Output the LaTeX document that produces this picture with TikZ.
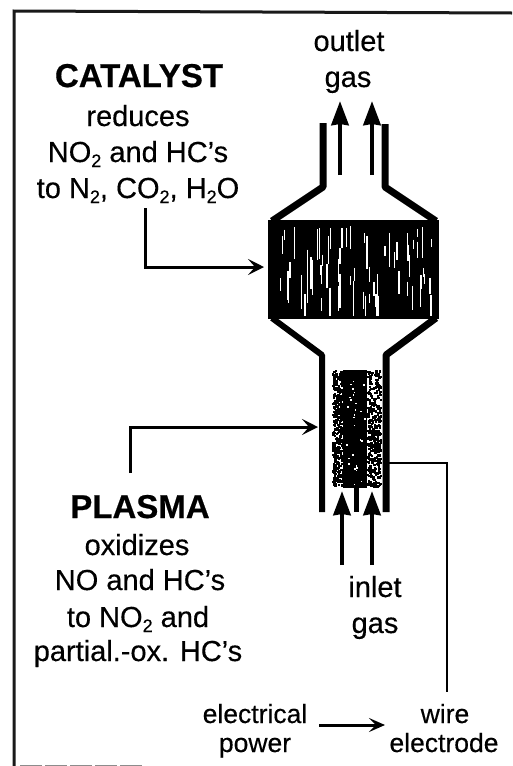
\documentclass[tikz,border=0pt]{standalone}
\usepackage{fontspec}
\setmainfont{Liberation Sans}
\newfontfamily\txtfont[RawFeature={embolden=0.35}]{Liberation Sans}
\newfontfamily\hdfont[RawFeature={embolden=0.5}]{Liberation Sans Bold}
\usetikzlibrary{arrows.meta}
\newcommand{\subtwo}{\raisebox{-5pt}{\fontsize{18}{18}\selectfont 2}}
\tikzset{
  frameline/.style={line width=3pt,black!90},
  wall/.style={line width=7pt,line join=round,black},
  wallthin/.style={line width=6pt,line join=round,black},
  gasflow/.style={line width=4.5pt,-{Stealth[length=24pt,width=17pt,inset=1pt]}},
  callout/.style={line width=3pt,line join=miter,-{Stealth[length=16pt,width=16pt,inset=7pt]}},
  wireline/.style={line width=2.4pt,line join=miter},
  label/.style={anchor=base,inner sep=0pt,align=center,font=\txtfont\fontsize{29}{29}\selectfont},
  smalllabel/.style={anchor=base,inner sep=0pt,font=\txtfont\fontsize{26.5}{26.5}\selectfont},
  heading/.style={anchor=base,inner sep=0pt,font=\hdfont\fontsize{33}{33}\selectfont},
  bed/.style={anchor=north west,inner sep=0pt,minimum width=171pt,minimum height=99pt,fill=black,draw=none},
  plasmaregion/.style={anchor=north west,inner sep=0pt,minimum width=49pt,minimum height=118pt,draw=none},
}
\begin{document}
\begin{tikzpicture}[x=1pt,y=-1pt]
\useasboundingbox (0,0) rectangle (512,766);
\fill[white] (0,0) rectangle (512,766);
\pgfmathsetseed{4242}
% frame
\draw[frameline] (14,766) -- (14,11) -- (512,13);
\draw[black!45,line width=1pt,dash pattern=on 22pt off 3pt] (20,765) -- (143,765);
% catalyst bed
\node[bed] (catbed) at (268,220) {};
\foreach \i in {1,...,70}{
  \pgfmathsetmacro{\xx}{275+157*rnd}
  \pgfmathsetmacro{\yy}{226+75*rnd}
  \pgfmathsetmacro{\ll}{8+28*rnd}
  \pgfmathsetmacro{\ww}{0.5+1.4*rnd}
  \draw[white,line width=\ww pt] (\xx,\yy) -- (\xx,{min(\yy+\ll,316)});
}
% plasma
\node[plasmaregion] (plasma) at (332,370) {};
\fill[black] (343,370) rectangle (367,488);
\foreach \i in {1,...,420}{
  \pgfmathsetmacro{\xx}{332+11*rnd^1.0}
  \pgfmathsetmacro{\yy}{370+116*rnd}
  \fill[black] (\xx,\yy) rectangle +(2.2,2.2);
}
\foreach \i in {1,...,420}{
  \pgfmathsetmacro{\xx}{367+13*rnd}
  \pgfmathsetmacro{\yy}{370+116*rnd}
  \fill[black] (\xx,\yy) rectangle +(2.2,2.2);
}
\foreach \i in {1,...,30}{
  \pgfmathsetmacro{\xx}{345+20*rnd}
  \pgfmathsetmacro{\yy}{376+108*rnd}
  \fill[white] (\xx,\yy) rectangle +(1.5,1.5);
}
% walls
\coordinate (ulTop) at (323,123);
\coordinate (ulNeck) at (323,187);
\coordinate (ulBed) at (272,221);
\coordinate (urTop) at (385,124);
\coordinate (urNeck) at (385,187);
\coordinate (urBed) at (436,221);
\draw[wall] (ulTop) -- (ulNeck) -- (ulBed);
\draw[wall] (urTop) -- (urNeck) -- (urBed);
\coordinate (llBed) at (272,318);
\coordinate (llNeck) at (322,355);
\coordinate (llEnd) at (322,512);
\coordinate (lrBed) at (436,318);
\coordinate (lrNeck) at (386,355);
\coordinate (lrEnd) at (386,512);
\draw[wallthin] (llBed) -- (llNeck) -- (llEnd);
\draw[wall] (lrBed) -- (lrNeck) -- (lrEnd);
% central wire stub
\coordinate (stubTop) at (356,487);
\coordinate (stubEnd) at (356,512);
\draw[line width=5pt] (stubTop) -- (stubEnd);
% gas arrows
\coordinate (o1a) at (340,175); \coordinate (o1b) at (340,101);
\coordinate (o2a) at (372,175); \coordinate (o2b) at (372,101);
\coordinate (i1a) at (342,565); \coordinate (i1b) at (342,491);
\coordinate (i2a) at (372,565); \coordinate (i2b) at (372,491);
\draw[gasflow] (o1a) -- (o1b);
\draw[gasflow] (o2a) -- (o2b);
\draw[gasflow] (i1a) -- (i1b);
\draw[gasflow] (i2a) -- (i2b);
% callouts
\coordinate (catStart) at (145,208);
\coordinate (catCorner) at (145,267);
\coordinate (catEnd) at (264,267);
\draw[callout] (catStart) -- (catCorner) -- (catEnd);
\coordinate (plStart) at (130,473);
\coordinate (plCorner) at (130,427);
\coordinate (plEnd) at (318,427);
\draw[callout] (plStart) -- (plCorner) -- (plEnd);
% electrode lead
\coordinate (leadStart) at (388,463);
\coordinate (leadCorner) at (447,463);
\coordinate (leadEnd) at (447,692);
\draw[wireline] (leadStart) -- (leadCorner) -- (leadEnd);
% labels
\node[heading] (cathead) at (139,87) {CATALYST};
\node[label] (c1) at (138,126) {reduces};
\node[label] (c2) at (138,162) {NO\subtwo{} and HC’s};
\node[label] (c3) at (138,198) {to N\subtwo, CO\subtwo, H\subtwo O};
\node[label] (out1) at (349,51) {outlet};
\node[label] (out2) at (348,87) {gas};
\node[heading] (plhead) at (140,518) {PLASMA};
\node[label] (p1) at (137,555) {oxidizes};
\node[label] (p2) at (140,590) {NO and HC’s};
\node[label] (p3) at (138,627) {to NO\subtwo{} and};
\node[label] (p4) at (138,661) {partial.-ox. HC’s};
\node[label] (in1) at (375,597) {inlet};
\node[label] (in2) at (375,633) {gas};
\node[smalllabel] (ep1) at (255,723) {electrical};
\node[smalllabel] (ep2) at (255,752) {power};
\node[smalllabel] (we1) at (445,723) {wire};
\node[smalllabel] (we2) at (444,752) {electrode};
\coordinate (powA) at (319,725);
\coordinate (powB) at (385,725);
\draw[line width=3pt,-{Stealth[length=16pt,width=14pt,inset=7pt]}] (powA) -- (powB);
\end{tikzpicture}
\end{document}
